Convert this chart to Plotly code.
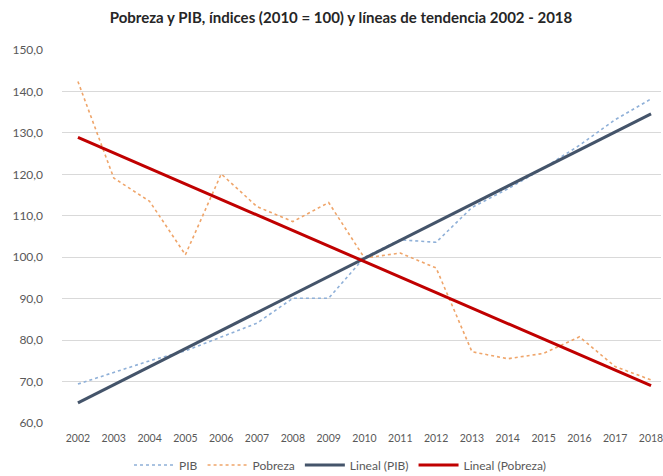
import numpy as np
import plotly.graph_objects as go

# Series (index 2010 = 100)
years = list(range(2002, 2019))
pib = [69.4, 72.2, 75.0, 77.4, 80.8, 84.1, 90.1, 90.1, 100.0, 104.2,
       103.6, 112.0, 116.5, 121.5, 127.0, 133.2, 138.2]
pobreza = [142.4, 119.1, 113.5, 100.6, 120.1, 112.2, 108.6, 113.2, 99.8,
           101.0, 97.4, 77.2, 75.5, 76.8, 80.8, 73.6, 70.4]
year_labels = [str(y) for y in years]
y_ticks = [60, 70, 80, 90, 100, 110, 120, 130, 140, 150]

# Linear trend lines (least squares, as a spreadsheet "Lineal" trend)
x_idx = np.arange(len(years))
pib_fit = np.polyval(np.polyfit(x_idx, pib, 1), x_idx)
pob_fit = np.polyval(np.polyfit(x_idx, pobreza, 1), x_idx)

FONT = "Lato, 'Open Sans', sans-serif"
GREY = "#595959"

fig = go.Figure()
fig.add_trace(go.Scatter(x=years, y=pib, name="PIB", mode="lines",
                         line=dict(color="#8FB0D8", width=1.6, dash="dot")))
fig.add_trace(go.Scatter(x=years, y=pobreza, name="Pobreza", mode="lines",
                         line=dict(color="#EFA56A", width=1.6, dash="dot")))
fig.add_trace(go.Scatter(x=years, y=pib_fit, name="Lineal (PIB)", mode="lines",
                         line=dict(color="#44546A", width=3)))
fig.add_trace(go.Scatter(x=years, y=pob_fit, name="Lineal (Pobreza)", mode="lines",
                         line=dict(color="#C00000", width=3)))

fig.update_layout(
    width=663, height=476,
    margin=dict(l=62, r=0, t=50, b=53),
    paper_bgcolor="white", plot_bgcolor="white",
    separators=",.",
    font=dict(family=FONT, color=GREY),
    title=dict(text="<b>Pobreza y PIB, índices (2010 = 100) y líneas de tendencia 2002 - 2018</b>",
               xref="container", x=341 / 663, xanchor="center",
               y=1 - 18 / 476, yanchor="middle",
               font=dict(family=FONT, size=15, color="#262626")),
    showlegend=True,
    legend=dict(orientation="h", xref="container", yref="container",
                x=340 / 663, xanchor="center", y=1 - 465 / 476, yanchor="middle",
                font=dict(size=12, color=GREY), itemwidth=40,
                bgcolor="rgba(0,0,0,0)", tracegroupgap=0),
)

fig.update_xaxes(
    range=[2001.555, 2018.278], tickmode="array", tickvals=years, ticktext=year_labels,
    showgrid=False, zeroline=False, showline=False, ticks="",
    tickfont=dict(size=10.5, color=GREY), ticklabelstandoff=7,
    ticklabeloverflow="allow",
)
fig.update_yaxes(
    range=[60, 150], tickmode="array", tickvals=y_ticks, tickformat=".1f",
    showgrid=True, gridcolor="#D9D9D9", gridwidth=1, zeroline=False,
    showline=False, ticks="", ticklabelstandoff=18,
    tickfont=dict(size=12, color=GREY),
)

fig.write_html("out.html")
